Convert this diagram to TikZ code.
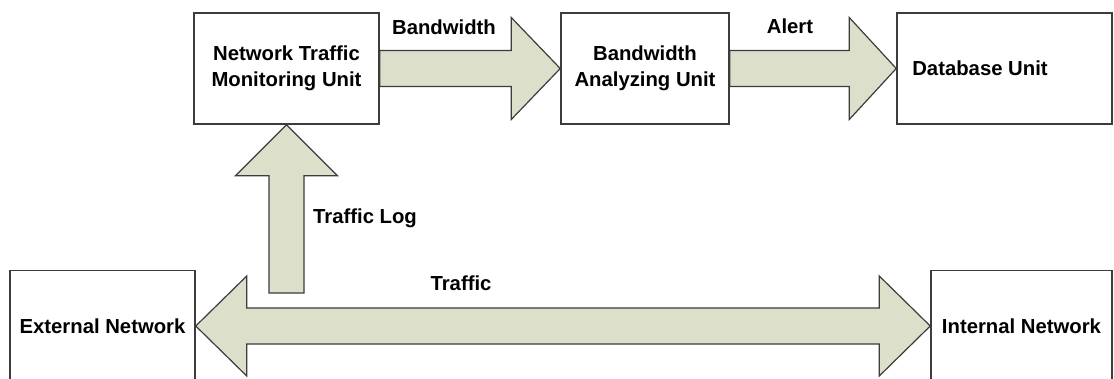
\documentclass[tikz,border=0pt]{standalone}
\usepackage{fontspec}
\setmainfont{Liberation Sans}
\usetikzlibrary{calc}
\definecolor{arrowfill}{RGB}{220,224,203}
\definecolor{edgegray}{RGB}{60,60,60}

\begin{document}
\begin{tikzpicture}[x=1pt,y=-1pt,
    unit/.style={draw=edgegray, line width=1.5pt, fill=white, inner sep=0pt,
        minimum height=111pt, align=center,
        font=\fontsize{20.3}{26}\selectfont\bfseries},
    fatarrow/.style={draw=edgegray, line width=1.2pt, fill=arrowfill},
    lbl/.style={inner sep=0pt, font=\fontsize{20.3}{26}\selectfont\bfseries}]
\useasboundingbox (0,0) rectangle (1114,378);

% units
\node[unit, minimum width=185pt] (ntmu) at (286.5,68.5) {Network Traffic\\Monitoring Unit};
\node[unit, minimum width=168pt] (bau) at (645,68.5) {Bandwidth\\Analyzing Unit};
\node[unit, minimum width=215pt] (db) at (1004.5,68.5) {};
\node[lbl] (dbtext) at (980,68.5) {Database Unit};
\node[unit, minimum width=185pt] (ext) at (102.5,326) {External Network};
\node[unit, minimum width=181pt] (int) at (1021.5,326) {Internal Network};
\coordinate (logtail) at (286.5,293);

% bandwidth
\draw[fatarrow] ($(ntmu.east)+(0,-18)$) -- ($(bau.west)+(-49,-18)$) --
    ($(bau.west)+(-49,-51)$) -- (bau.west) -- ($(bau.west)+(-49,51)$) --
    ($(bau.west)+(-49,18)$) -- ($(ntmu.east)+(0,18)$) -- cycle;
% alert
\draw[fatarrow] ($(bau.east)+(0,-18)$) -- ($(db.west)+(-47,-18)$) --
    ($(db.west)+(-47,-51)$) -- (db.west) -- ($(db.west)+(-47,51)$) --
    ($(db.west)+(-47,18)$) -- ($(bau.east)+(0,18)$) -- cycle;
% traffic log
\draw[fatarrow] ($(logtail)+(-17.5,0)$) -- ($(ntmu.south)+(-17.5,51)$) --
    ($(ntmu.south)+(-51,51)$) -- (ntmu.south) -- ($(ntmu.south)+(51,51)$) --
    ($(ntmu.south)+(17.5,51)$) -- ($(logtail)+(17.5,0)$) -- cycle;
% traffic
\draw[fatarrow] (ext.east) -- ($(ext.east)+(51,-50)$) -- ($(ext.east)+(51,-18)$) --
    ($(int.west)+(-51,-18)$) -- ($(int.west)+(-51,-50)$) -- (int.west) --
    ($(int.west)+(-51,50)$) -- ($(int.west)+(-51,18)$) -- ($(ext.east)+(51,18)$) --
    ($(ext.east)+(51,50)$) -- cycle;

% labels
\node[lbl] (bwlbl) at (444,27) {Bandwidth};
\node[lbl] (alertlbl) at (790,26) {Alert};
\node[lbl] (loglbl) at (365,218) {Traffic Log};
\node[lbl] (trafficlbl) at (461,283) {Traffic};
\end{tikzpicture}
\end{document}
